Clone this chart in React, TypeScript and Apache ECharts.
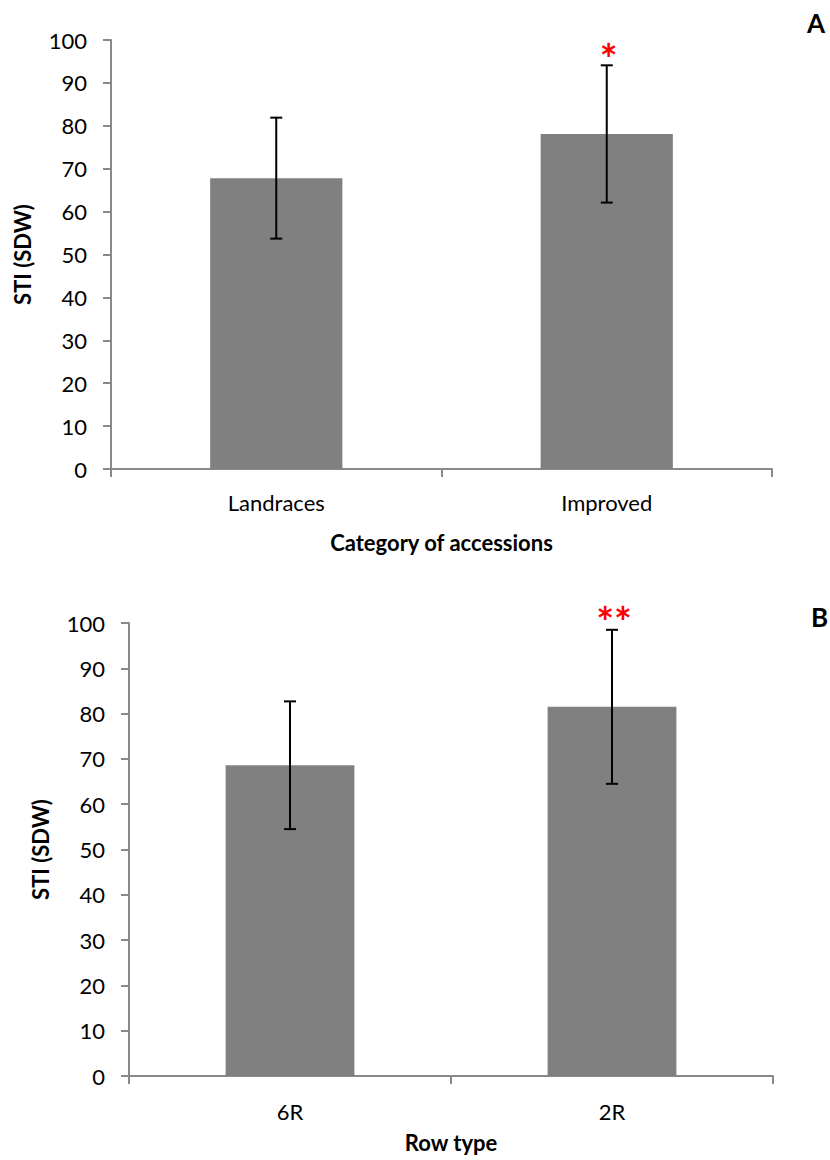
import React, { useEffect, useRef } from "react";
import * as echarts from "echarts";

// Panel A: STI (SDW) by category of accessions
const topCategories = ["Landraces", "Improved"];
const topMeans = [67.8, 78.1];
const topErrors = [14.1, 16.0];
const topMarks = ["", "*"];

// Panel B: STI (SDW) by row type
const bottomCategories = ["6R", "2R"];
const bottomMeans = [68.6, 81.5];
const bottomErrors = [14.1, 17.0];
const bottomMarks = ["", "**"];

const yTicks = { min: 0, max: 100, interval: 10 };

const FONT = "Lato, 'Open Sans', sans-serif";
const AXIS_GRAY = "#898989";
const BAR_GRAY = "#808080";

function errorBarSeries(
  axisIndex: number,
  means: number[],
  errors: number[],
  marks: string[],
  markLift: number
) {
  const data = means.map((m, i) => [i, m - errors[i], m + errors[i]]);
  return {
    type: "custom",
    xAxisIndex: axisIndex,
    yAxisIndex: axisIndex,
    encode: { x: 0, y: [1, 2] },
    z: 10,
    data,
    renderItem: (params: any, api: any) => {
      const i = api.value(0);
      const lo = api.coord([i, api.value(1)]);
      const hi = api.coord([i, api.value(2)]);
      const cap = 6;
      const lineStyle = { stroke: "#000", lineWidth: 2 };
      const children: any[] = [
        { type: "line", shape: { x1: hi[0], y1: hi[1], x2: lo[0], y2: lo[1] }, style: lineStyle },
        { type: "line", shape: { x1: hi[0] - cap, y1: hi[1], x2: hi[0] + cap, y2: hi[1] }, style: lineStyle },
        { type: "line", shape: { x1: lo[0] - cap, y1: lo[1], x2: lo[0] + cap, y2: lo[1] }, style: lineStyle },
      ];
      const mark = marks[params.dataIndex];
      if (mark) {
        // significance asterisks above the upper whisker
        children.push({
          type: "text",
          style: {
            x: hi[0] + 2,
            y: hi[1] - markLift,
            text: mark,
            fill: "#ff0000",
            font: `bold 42px ${FONT}`,
            align: "center",
            verticalAlign: "middle",
          },
        });
      }
      return { type: "group", children };
    },
  };
}

function xAxisFor(gridIndex: number, categories: string[], name: string, labelMargin: number, nameGap: number) {
  return {
    type: "category",
    gridIndex,
    data: categories,
    name,
    nameLocation: "middle",
    nameGap,
    nameTextStyle: { fontFamily: FONT, fontSize: 22, fontWeight: "bold", color: "#000" },
    axisLine: { show: true, lineStyle: { color: AXIS_GRAY, width: 2 } },
    axisTick: { show: true, length: 8, lineStyle: { color: AXIS_GRAY, width: 2 } },
    axisLabel: { fontFamily: FONT, fontSize: 22, color: "#000", margin: labelMargin },
    splitLine: { show: false },
  };
}

function yAxisFor(gridIndex: number) {
  return {
    type: "value",
    gridIndex,
    min: yTicks.min,
    max: yTicks.max,
    interval: yTicks.interval,
    name: "STI (SDW)",
    nameLocation: "middle",
    nameGap: 78,
    nameTextStyle: { fontFamily: FONT, fontSize: 22, fontWeight: "bold", color: "#000" },
    axisLine: { show: true, lineStyle: { color: AXIS_GRAY, width: 2 } },
    axisTick: { show: true, length: 8, lineStyle: { color: AXIS_GRAY, width: 2 } },
    axisLabel: { fontFamily: FONT, fontSize: 22, color: "#000", margin: 24 },
    splitLine: { show: false },
  };
}

export default function App() {
  const ref = useRef<HTMLDivElement>(null);

  useEffect(() => {
    if (!ref.current) return;
    const chart = echarts.init(ref.current, undefined, { renderer: "svg" });
    chart.setOption({
      animation: false,
      backgroundColor: "#ffffff",
      grid: [
        { left: 111, top: 40, width: 661, height: 429 },
        { left: 129, top: 623, width: 644, height: 453 },
      ],
      xAxis: [
        xAxisFor(0, topCategories, "Category of accessions", 22, 62),
        xAxisFor(1, bottomCategories, "Row type", 24, 55),
      ],
      yAxis: [yAxisFor(0), yAxisFor(1)],
      series: [
        {
          type: "bar",
          xAxisIndex: 0,
          yAxisIndex: 0,
          data: topMeans,
          barWidth: "40%",
          itemStyle: { color: BAR_GRAY },
        },
        {
          type: "bar",
          xAxisIndex: 1,
          yAxisIndex: 1,
          data: bottomMeans,
          barWidth: "40%",
          itemStyle: { color: BAR_GRAY },
        },
        errorBarSeries(0, topMeans, topErrors, topMarks, 6),
        errorBarSeries(1, bottomMeans, bottomErrors, bottomMarks, 8),
      ],
      graphic: [
        {
          type: "text",
          left: 807,
          top: 10,
          style: { text: "A", font: `bold 26px ${FONT}`, fill: "#000" },
        },
        {
          type: "text",
          left: 811,
          top: 604,
          style: { text: "B", font: `bold 26px ${FONT}`, fill: "#000" },
        },
      ],
    });
    return () => chart.dispose();
  }, []);

  return (
    <div
      ref={ref}
      style={{ position: "absolute", left: 0, top: 0, width: 830, height: 1160 }}
    />
  );
}
